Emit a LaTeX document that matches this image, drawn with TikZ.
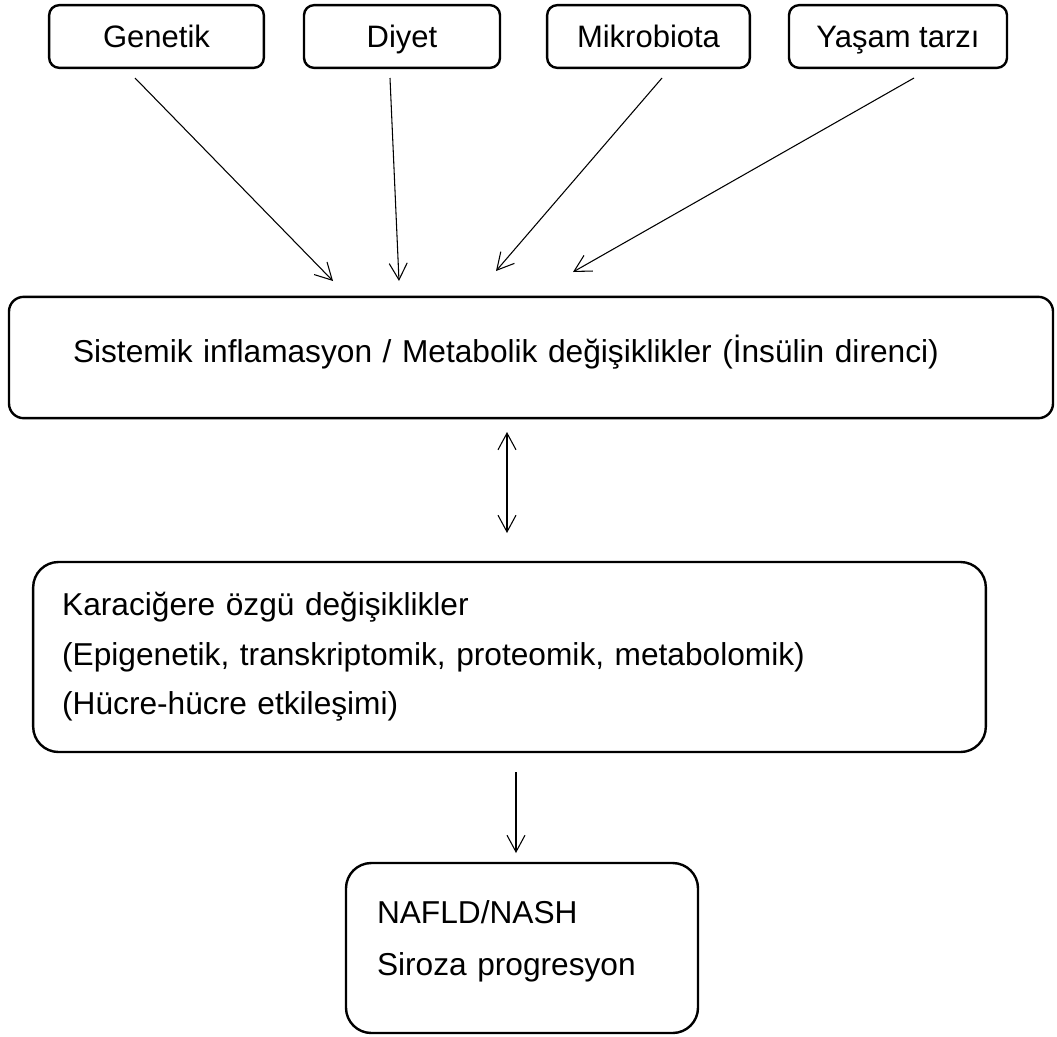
\documentclass[tikz,border=0pt]{standalone}
\usepackage{fontspec}
\setmainfont{Liberation Sans}
\usepackage{tikz}
\usetikzlibrary{arrows.meta,positioning}
\tikzstyle{factor} = [draw, line width=1.8pt, rounded corners=7.5pt, minimum height=47pt, inner sep=0pt, text height=16.5pt, text depth=0pt, font=\fontsize{23.25}{28}\selectfont]
\tikzstyle{stage} = [draw, line width=1.8pt, align=left, font=\fontsize{23.75}{37}\selectfont]
\tikzstyle{arrow} = [line width=0.8pt, ->, >={Straight Barb[length=12.5pt,width=13.5pt]}]

\begin{document}
\begin{tikzpicture}[x=0.75pt, y=-0.75pt]
    \useasboundingbox (0,0) rectangle (1057,1036);

    % Risk factors
    \node[factor, minimum width=161pt] (genetik) at (156.5,36.5) {Genetik};
    \node[factor, minimum width=147pt] (diyet) at (402,36.5) {Diyet};
    \node[factor, minimum width=152pt] (mikro) at (648.5,36.5) {Mikrobiota};
    \node[factor, minimum width=163.5pt] (yasam) at (898,36.5) {Yaşam tarzı};

    % Systemic box
    \node[stage, rounded corners=11pt, text width=687pt, inner xsep=48pt, inner ysep=0pt, minimum height=91pt,
          text height=17pt, text depth=10.25pt] (sistem) at (531,357.5)
        {Sistemik inflamasyon / Metabolik değişiklikler (İnsülin direnci)};

    % Liver box
    \node[stage, rounded corners=19pt, text width=671pt, inner xsep=21.75pt, minimum height=142.5pt] (karaciger) at (509.5,657)
        {Karaciğere özgü değişiklikler\\(Epigenetik, transkriptomik, proteomik, metabolomik)\\(Hücre-hücre etkileşimi)};

    % Outcome box
    \node[stage, rounded corners=19pt, text width=217.5pt, inner xsep=23.25pt, inner ysep=0pt, minimum height=127.5pt,
          font=\fontsize{23.75}{39}\selectfont, text height=17pt, text depth=54.5pt] (sonuc) at (522,948)
        {NAFLD/NASH\\Siroza progresyon};

    % Arrow ends
    \coordinate (genetik-out) at (135,78);
    \coordinate (diyet-out) at (390,78);
    \coordinate (mikro-out) at (662,78);
    \coordinate (yasam-out) at (914,78);
    \coordinate (sistem-in1) at (333,281);
    \coordinate (sistem-in2) at (399,281);
    \coordinate (sistem-in3) at (496,271);
    \coordinate (sistem-in4) at (573,272);
    \coordinate (sistem-out) at (507,432);
    \coordinate (karaciger-in) at (507,533);
    \coordinate (karaciger-out) at (516,772);
    \coordinate (sonuc-in) at (516,853);

    % Arrows
    \draw[arrow] (genetik-out) -- (sistem-in1);
    \draw[arrow] (diyet-out) -- (sistem-in2);
    \draw[arrow] (mikro-out) -- (sistem-in3);
    \draw[arrow] (yasam-out) -- (sistem-in4);
    \draw[arrow, <->] (sistem-out) -- (karaciger-in);
    \draw[arrow] (karaciger-out) -- (sonuc-in);
\end{tikzpicture}
\end{document}
